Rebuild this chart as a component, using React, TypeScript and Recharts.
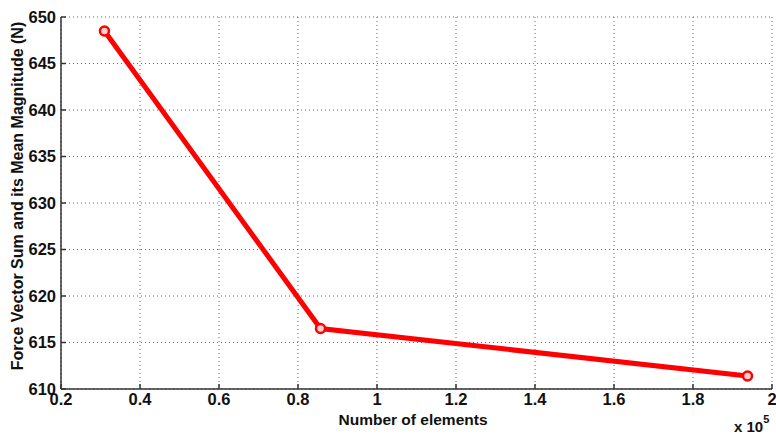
import { LineChart, Line, XAxis, YAxis, CartesianGrid } from 'recharts';

// element counts are in units of 1e5 (matches the "x 10^5" axis note)
const elements = [0.31, 0.857, 1.938];
const forceMagnitude = [648.5, 616.5, 611.4];
const xTicks = [0.2, 0.4, 0.6, 0.8, 1, 1.2, 1.4, 1.6, 1.8, 2];
const yTicks = [610, 615, 620, 625, 630, 635, 640, 645, 650];

const data = elements.map((x, i) => ({ x, y: forceMagnitude[i] }));

const FONT = 'Arial, "Liberation Sans", Helvetica, sans-serif';
const tickStyle = { fontSize: 16.5, fontWeight: 700, fill: '#111', fontFamily: FONT };

export default function App() {
  return (
    <div style={{ position: 'absolute', left: 0, top: 0, width: 776, height: 436, background: '#fff' }}>
      <style>{`.recharts-cartesian-axis-tick-value { font-weight: 700; }`}</style>
      <LineChart
        width={776}
        height={436}
        data={data}
        margin={{ top: 17, right: 4, left: 0, bottom: 0 }}
      >
        <CartesianGrid stroke="#666" strokeDasharray="1 3" />
        <XAxis
          type="number"
          dataKey="x"
          domain={[0.2, 2]}
          ticks={xTicks}
          interval={0}
          height={47}
          tick={tickStyle}
          tickSize={-5}
          tickMargin={9}
          stroke="#333"
          strokeWidth={1.5}
          tickFormatter={(v: number) => `${v}`}
        />
        <YAxis
          type="number"
          dataKey="y"
          domain={[610, 650]}
          ticks={yTicks}
          interval={0}
          width={61}
          tick={tickStyle}
          tickSize={-5}
          tickMargin={10}
          stroke="#333"
          strokeWidth={1.5}
        />
        <Line
          type="linear"
          dataKey="y"
          stroke="#ff0000"
          strokeWidth={5}
          dot={{ r: 4.5, stroke: '#ff0000', strokeWidth: 2.5, fill: '#ffd0d0' }}
          activeDot={false}
          isAnimationActive={false}
        />
      </LineChart>
      <div
        style={{
          position: 'absolute',
          left: 18,
          top: 196,
          transform: 'translate(-50%, -50%) rotate(-90deg)',
          whiteSpace: 'nowrap',
          fontFamily: FONT,
          fontWeight: 700,
          fontSize: 16,
          color: '#111',
        }}
      >
        Force Vector Sum and its Mean Magnitude (N)
      </div>
      <div
        style={{
          position: 'absolute',
          left: 413,
          top: 420,
          transform: 'translate(-50%, -50%)',
          whiteSpace: 'nowrap',
          fontFamily: FONT,
          fontWeight: 700,
          fontSize: 15.5,
          color: '#111',
        }}
      >
        Number of elements
      </div>
      <div
        style={{
          position: 'absolute',
          left: 734,
          top: 418,
          whiteSpace: 'nowrap',
          fontFamily: FONT,
          fontWeight: 700,
          fontSize: 15,
          color: '#111',
        }}
      >
        x 10<sup style={{ fontSize: 11, verticalAlign: 'top', position: 'relative', top: -5 }}>5</sup>
      </div>
    </div>
  );
}
